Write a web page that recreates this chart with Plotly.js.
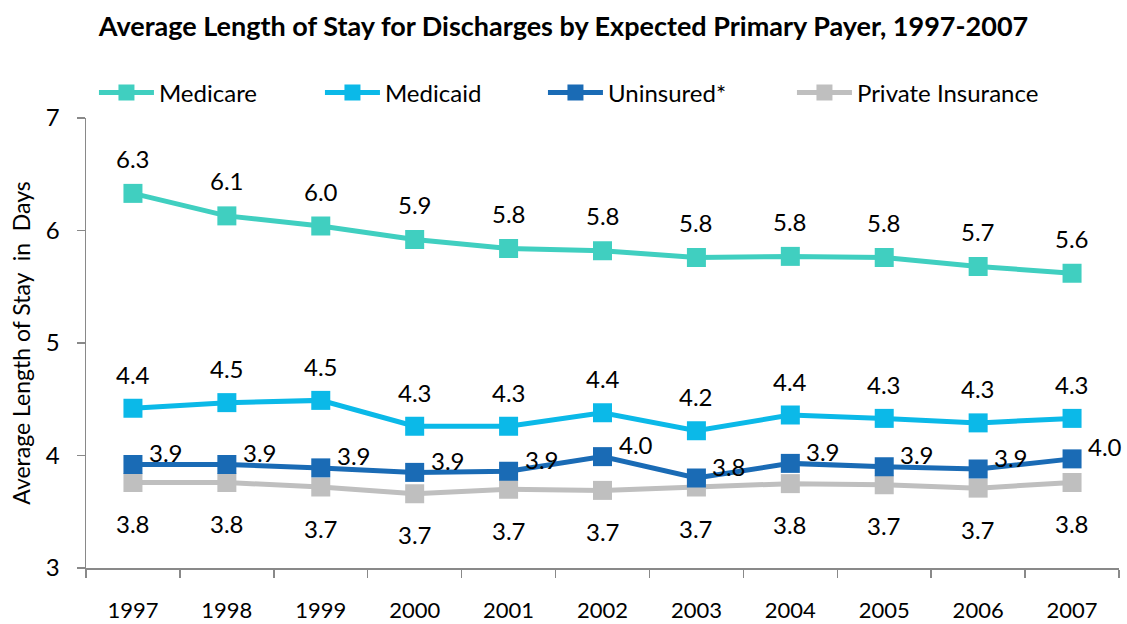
<!DOCTYPE html>
<html>
<head>
<meta charset="utf-8">
<script src="https://cdn.plot.ly/plotly-3.0.1.min.js"></script>
<style>html,body{margin:0;padding:0;background:#fff;}#chart{width:1127px;height:624px;}</style>
</head>
<body>
<div id="chart"></div>
<script>
const years = ["1997","1998","1999","2000","2001","2002","2003","2004","2005","2006","2007"];
const medicare = [6.33, 6.13, 6.04, 5.92, 5.84, 5.82, 5.76, 5.77, 5.76, 5.68, 5.62];
const medicaid = [4.42, 4.47, 4.49, 4.26, 4.26, 4.38, 4.22, 4.36, 4.33, 4.29, 4.33];
const uninsured = [3.92, 3.92, 3.89, 3.85, 3.86, 3.99, 3.80, 3.93, 3.90, 3.88, 3.97];
const privateIns = [3.76, 3.76, 3.72, 3.66, 3.70, 3.69, 3.72, 3.75, 3.74, 3.71, 3.76];
const medicareLabels = ["6.3","6.1","6.0","5.9","5.8","5.8","5.8","5.8","5.8","5.7","5.6"];
const medicaidLabels = ["4.4","4.5","4.5","4.3","4.3","4.4","4.2","4.4","4.3","4.3","4.3"];
const uninsuredLabels = ["3.9","3.9","3.9","3.9","3.9","4.0","3.8","3.9","3.9","3.9","4.0"];
const privateLabels = ["3.8","3.8","3.7","3.7","3.7","3.7","3.7","3.8","3.7","3.7","3.8"];

const FONT = "Lato, 'Open Sans', sans-serif";
const colors = {medicare:"#40CFC0", medicaid:"#0BB9E8", uninsured:"#1A6BB5", priv:"#BFBFBF"};

function series(name, y, color, rank, lw) {
  return {
    type: "scatter", mode: "lines+markers", name: name, x: years, y: y,
    line: {color: color, width: 5},
    marker: {symbol: "square", size: 19, color: color},
    legendrank: rank, legendwidth: lw,
    hoverinfo: "x+y"
  };
}
const traces = [
  series("Medicare", medicare, colors.medicare, 1, 156),
  series("Medicaid", medicaid, colors.medicaid, 2, 153),
  series("Private Insurance", privateIns, colors.priv, 4, 200),
  series("Uninsured*", uninsured, colors.uninsured, 3, 179)
];

const annotations = [];
function addLabels(y, labels, xs, ys) {
  for (let i = 0; i < years.length; i++) {
    annotations.push({xref: "x", yref: "y", x: i, y: y[i], text: labels[i], showarrow: false,
      xanchor: "center", yanchor: "middle",
      xshift: xs, yshift: ys, font: {family: FONT, size: 24, color: "#000"}});
  }
}
addLabels(medicare, medicareLabels, 0, 35);
addLabels(medicaid, medicaidLabels, 0, 34);
addLabels(uninsured, uninsuredLabels, 33, 12);
addLabels(privateIns, privateLabels, 0, -41);

const layout = {
  width: 1127, height: 624,
  margin: {l: 86, r: 8, t: 118, b: 56},
  paper_bgcolor: "#fff", plot_bgcolor: "#fff",
  font: {family: FONT, size: 24, color: "#000"},
  title: {text: "<b>Average Length of Stay for Discharges by Expected Primary Payer, 1997-2007</b>",
    font: {family: FONT, size: 27, color: "#000"}, x: 0.5, xanchor: "center",
    yref: "container", y: 1 - 27/624, yanchor: "middle"},
  showlegend: true,
  legend: {orientation: "h", x: 0.0077, xanchor: "left", y: 1 + 25/450, yanchor: "middle",
    itemwidth: 55, font: {family: FONT, size: 24, color: "#000"}, bgcolor: "rgba(0,0,0,0)"},
  xaxis: {type: "category", range: [-0.5, 10.5], tickson: "boundaries", ticks: "outside",
    ticklen: 8, tickwidth: 1.5, tickcolor: "#898989", showline: true, linecolor: "#898989",
    linewidth: 1.5, showgrid: false, zeroline: false, ticklabelstandoff: 22,
    tickfont: {family: FONT, size: 22, color: "#000"}, fixedrange: true},
  yaxis: {range: [3, 7], dtick: 1, ticks: "outside", ticklen: 8, tickwidth: 1.5,
    tickcolor: "#898989", showline: true, linecolor: "#898989", linewidth: 1.5,
    showgrid: false, zeroline: false, ticklabelstandoff: 12,
    tickfont: {family: FONT, size: 24, color: "#000"},
    title: {text: "Average Length of Stay  in  Days", font: {family: FONT, size: 23, color: "#000"}, standoff: 8},
    fixedrange: true},
  annotations: annotations
};

Plotly.newPlot("chart", traces, layout, {displayModeBar: false, staticPlot: true});
</script>
</body>
</html>
